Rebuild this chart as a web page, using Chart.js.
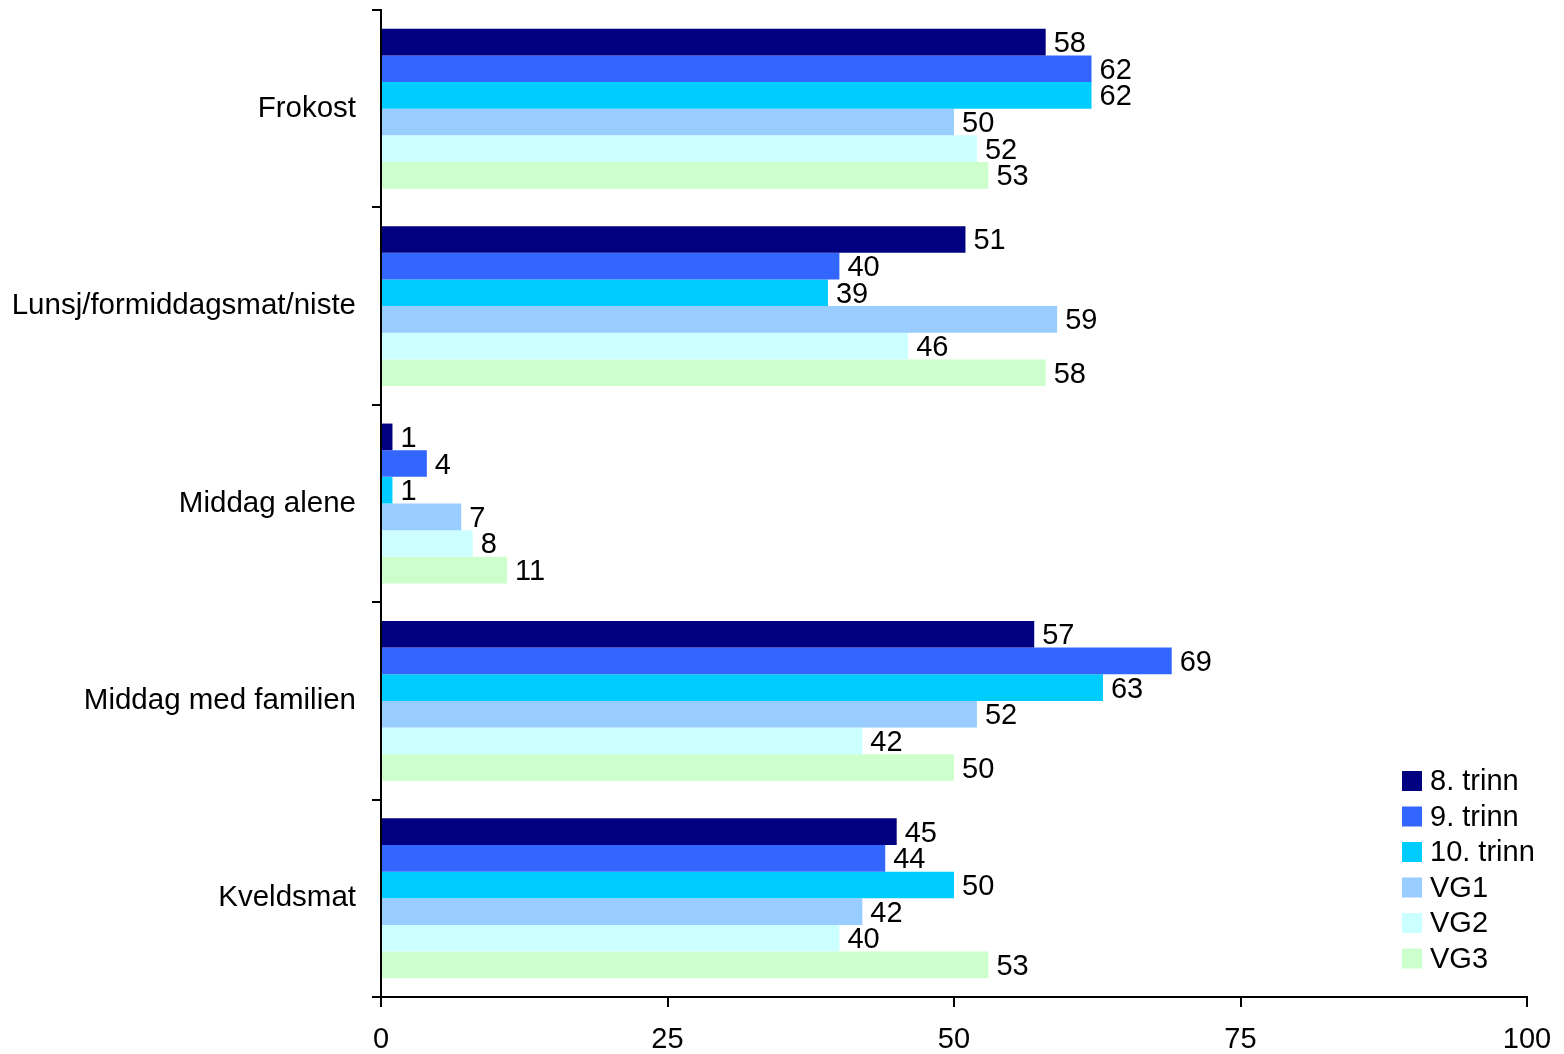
<!DOCTYPE html>
<html>
<head>
<meta charset="utf-8">
<script src="https://cdn.jsdelivr.net/npm/chart.js@4/dist/chart.umd.min.js"></script>
<style>
html,body{margin:0;padding:0;background:#fff;}
#wrap{width:1564px;height:1054px;position:relative;}
</style>
</head>
<body>
<div id="wrap"><canvas id="c" width="1564" height="1054"></canvas></div>
<script>
const categories = ["Frokost", "Lunsj/formiddagsmat/niste", "Middag alene", "Middag med familien", "Kveldsmat"];
const seriesNames = ["8. trinn", "9. trinn", "10. trinn", "VG1", "VG2", "VG3"];
const trinn8 = [58, 51, 1, 57, 45];
const trinn9 = [62, 40, 4, 69, 44];
const trinn10 = [62, 39, 1, 63, 50];
const vg1 = [50, 59, 7, 52, 42];
const vg2 = [52, 46, 8, 42, 40];
const vg3 = [53, 58, 11, 50, 53];
const xTicks = [0, 25, 50, 75, 100];
const colors = ["#000080", "#3366FF", "#00CCFF", "#99CCFF", "#CCFFFF", "#CCFFCC"];

const seriesValues = [trinn8, trinn9, trinn10, vg1, vg2, vg3];
const FONT = "'Liberation Sans', Arial, sans-serif";
const FSIZE = 29;

const labelPlugin = {
  id: 'valueLabels',
  afterDatasetsDraw(chart) {
    const ctx = chart.ctx;
    ctx.save();
    ctx.font = FSIZE + "px " + FONT;
    ctx.fillStyle = "#000";
    ctx.textBaseline = "middle";
    ctx.textAlign = "left";
    chart.data.datasets.forEach((ds, di) => {
      const meta = chart.getDatasetMeta(di);
      meta.data.forEach((bar, i) => {
        ctx.fillText(String(ds.data[i]), bar.x + 8, bar.y + 2);
      });
    });
    ctx.restore();
  }
};

const legendPlugin = {
  id: 'insideLegend',
  afterDraw(chart) {
    const ctx = chart.ctx;
    ctx.save();
    ctx.font = FSIZE + "px " + FONT;
    ctx.textBaseline = "middle";
    ctx.textAlign = "left";
    const x0 = 1402, y0 = 781, step = 35.5;
    chart.data.datasets.forEach((ds, i) => {
      const y = y0 + i * step;
      ctx.fillStyle = ds.backgroundColor;
      ctx.fillRect(x0, y - 10, 20, 20);
      ctx.fillStyle = "#000";
      ctx.fillText(ds.label, x0 + 28, y + 1);
    });
    ctx.restore();
  }
};

new Chart(document.getElementById('c'), {
  type: 'bar',
  data: {
    labels: categories,
    datasets: seriesNames.map((n, i) => ({
      label: n,
      data: seriesValues[i],
      backgroundColor: colors[i],
      borderWidth: 0,
      categoryPercentage: 0.81,
      barPercentage: 1.0
    }))
  },
  options: {
    indexAxis: 'y',
    responsive: false,
    animation: false,
    devicePixelRatio: 1,
    layout: { padding: { left: 0, right: 37, top: 10, bottom: 0 } },
    plugins: {
      legend: { display: false },
      tooltip: { enabled: false }
    },
    scales: {
      y: {
        offset: true,
        grid: { display: true, drawOnChartArea: false, offset: true, color: '#000', lineWidth: 2, tickLength: 9 },
        border: { display: true, color: '#000', width: 2 },
        ticks: { color: '#000', font: { family: FONT, size: 29.5 }, padding: 16 },
        afterFit(s) { s.width = 381; s.paddingTop = 0; s.paddingBottom = 0; }
      },
      x: {
        min: 0, max: 100,
        afterBuildTicks(s) { s.ticks = xTicks.map(v => ({ value: v })); },
        grid: { display: true, drawOnChartArea: false, color: '#000', lineWidth: 2, tickLength: 10 },
        border: { display: true, color: '#000', width: 2 },
        ticks: { color: '#000', font: { family: FONT, size: FSIZE }, padding: 16, maxRotation: 0 },
        afterFit(s) { s.height = 57; s.paddingLeft = 0; s.paddingRight = 0; }
      }
    }
  },
  plugins: [labelPlugin, legendPlugin]
});
</script>
</body>
</html>
